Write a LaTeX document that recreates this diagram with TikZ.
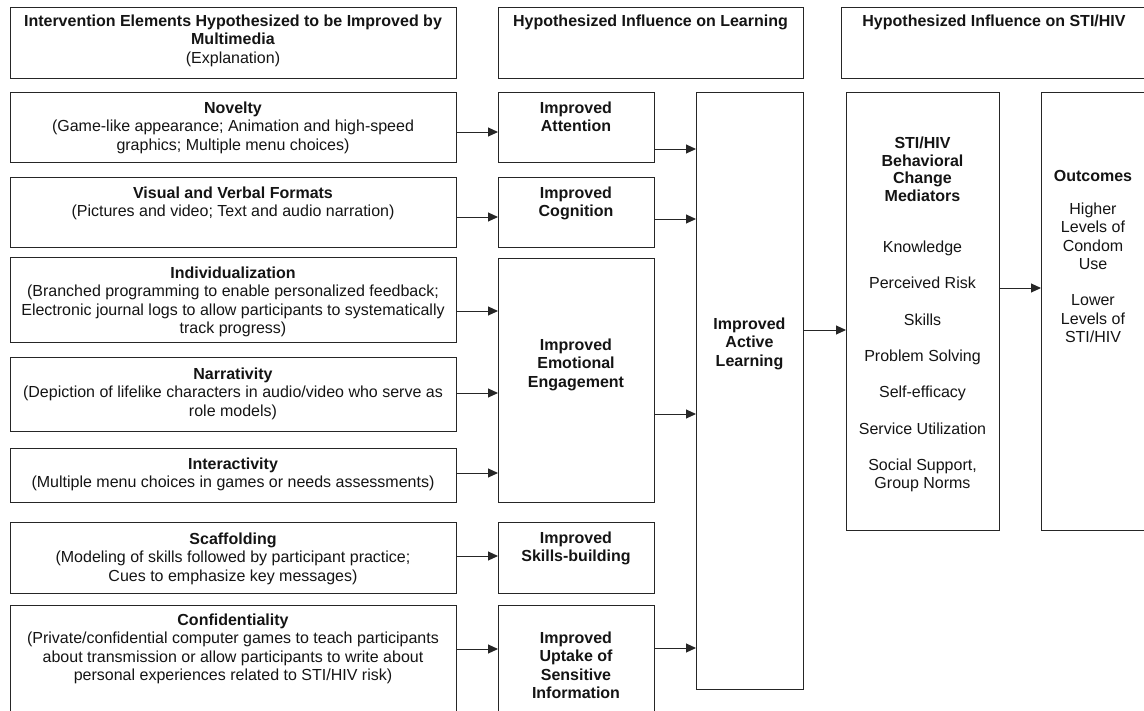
\documentclass[tikz,border=0pt]{standalone}
\usepackage{fontspec}
\setmainfont{Liberation Sans}
\usetikzlibrary{arrows.meta}
\tikzset{
  box/.style={draw=black!85, line width=1pt, inner sep=0pt, outer sep=0pt},
  txt/.style={align=center, inner sep=0pt, anchor=north, font=\fontsize{16}{18.3}\selectfont, text=black!92},
  btxt/.style={txt, font=\fontsize{16}{18.3}\selectfont\bfseries},
  arr/.style={draw=black!85, line width=1pt, -{Triangle[length=10pt,width=9pt]}},
}
\newcommand\mkbox[5]{\node[box, minimum width={#4-#2}, minimum height={#5-#3}] (#1) at ({(#2+#4)/2},{(#3+#5)/2}) {};}
\begin{document}
\begin{tikzpicture}[x=1pt,y=-1pt]
\useasboundingbox (0,0) rectangle (1144,710);
% headers
\mkbox{h1}{10}{7}{456}{78}
\mkbox{h2}{498}{7}{803}{78}
\mkbox{h3}{841}{7}{1148}{78}
% column 1
\mkbox{nov}{10}{92}{456}{162}
\mkbox{vis}{10}{177}{456}{247}
\mkbox{ind}{10}{257}{456}{342}
\mkbox{nar}{10}{357}{456}{431}
\mkbox{int}{10}{448}{456}{502}
\mkbox{sca}{10}{522}{456}{593}
\mkbox{con}{10}{605}{456}{722}
% column 2
\mkbox{att}{498}{92}{654}{162}
\mkbox{cog}{498}{177}{654}{247}
\mkbox{emo}{498}{258}{654}{502}
\mkbox{ski}{498}{522}{654}{593}
\mkbox{upt}{498}{605}{654}{722}
% column 3
\mkbox{al}{696}{92}{803}{689}
% column 4
\mkbox{med}{846}{92}{999}{530}
\mkbox{out}{1041}{92}{1148}{530}

% texts
\node[txt] (h1-t) at (233,14.8) {\textbf{Intervention Elements Hypothesized to be Improved by}\\\textbf{Multimedia}\\(Explanation)};
\node[btxt] (h2-t) at (650.5,14.8) {Hypothesized Influence on Learning};
\node[btxt] (h3-t) at (994,14.8) {Hypothesized Influence on STI/HIV};

\node[txt] (nov-t) at (233,101.8) {\textbf{Novelty}\\(Game-like appearance; Animation and high-speed\\graphics; Multiple menu choices)};
\node[txt] (vis-t) at (233,186.8) {\textbf{Visual and Verbal Formats}\\(Pictures and video; Text and audio narration)};
\node[txt] (ind-t) at (233,266.8) {\textbf{Individualization}\\(Branched programming to enable personalized feedback;\\Electronic journal logs to allow participants to systematically\\track progress)};
\node[txt] (nar-t) at (233,367.8) {\textbf{Narrativity}\\(Depiction of lifelike characters in audio/video who serve as\\role models)};
\node[txt] (int-t) at (233,457.8) {\textbf{Interactivity}\\(Multiple menu choices in games or needs assessments)};
\node[txt] (sca-t) at (233,532.8) {\textbf{Scaffolding}\\(Modeling of skills followed by participant practice;\\Cues to emphasize key messages)};
\node[txt] (con-t) at (233,613.8) {\textbf{Confidentiality}\\(Private/confidential computer games to teach participants\\about transmission or allow participants to write about\\personal experiences related to STI/HIV risk)};

\node[btxt] (att-t) at (576,101.8) {Improved\\Attention};
\node[btxt] (cog-t) at (576,186.8) {Improved\\Cognition};
\node[btxt] (emo-t) at (576,338.8) {Improved\\Emotional\\Engagement};
\node[btxt] (ski-t) at (576,531.8) {Improved\\Skills-building};
\node[btxt] (upt-t) at (576,631.8) {Improved\\Uptake of\\Sensitive\\Information};

\node[btxt] (al-t) at (749.5,317.8) {Improved\\Active\\Learning};

\node[btxt, font=\fontsize{16}{17.5}\selectfont\bfseries] (medh-t) at (922.5,136.8) {STI/HIV\\Behavioral\\Change\\Mediators};
\node[txt] (medi-t) at (922.5,240.8) {Knowledge\\[18pt]Perceived Risk\\[18pt]Skills\\[18pt]Problem Solving\\[18pt]Self-efficacy\\[18pt]Service Utilization\\[18pt]Social Support,\\Group Norms};

\node[btxt] (outh-t) at (1093,169.8) {Outcomes};
\node[txt] (outi-t) at (1093,202.8) {Higher\\Levels of\\Condom\\Use\\[18pt]Lower\\Levels of\\STI/HIV};

% arrows
\draw[arr] (nov.east |- 0,132) -- (att.west |- 0,132);
\draw[arr] (vis.east |- 0,217) -- (cog.west |- 0,217);
\draw[arr] (ind.east |- 0,311) -- (emo.west |- 0,311);
\draw[arr] (nar.east |- 0,393) -- (emo.west |- 0,393);
\draw[arr] (int.east |- 0,473) -- (emo.west |- 0,473);
\draw[arr] (sca.east |- 0,556) -- (ski.west |- 0,556);
\draw[arr] (con.east |- 0,649) -- (upt.west |- 0,649);
\draw[arr] (att.east |- 0,149) -- (al.west |- 0,149);
\draw[arr] (cog.east |- 0,219) -- (al.west |- 0,219);
\draw[arr] (emo.east |- 0,414) -- (al.west |- 0,414);
\draw[arr] (upt.east |- 0,648) -- (al.west |- 0,648);
\draw[arr] (al.east |- 0,330) -- (med.west |- 0,330);
\draw[arr] (med.east |- 0,288) -- (out.west |- 0,288);
\end{tikzpicture}
\end{document}
